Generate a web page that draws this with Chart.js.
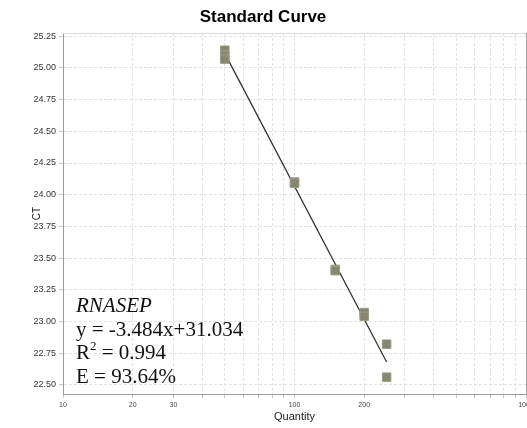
<!DOCTYPE html>
<html>
<head>
<meta charset="utf-8">
<script src="https://cdn.jsdelivr.net/npm/chart.js@4/dist/chart.umd.min.js"></script>
<style>
    html, body { margin: 0; padding: 0; background: #fff; overflow: hidden; }
    #wrap { width: 540px; height: 428px; }
</style>
</head>
<body>
<div id="wrap"><canvas id="stdcurve" width="540" height="428"></canvas></div>
<script>
"use strict";

/* data */
var quantities = [50, 50, 50, 100, 100, 150, 150, 200, 200, 250, 250];
var ctValues = [25.14, 25.10, 25.07, 24.10, 24.09, 23.41, 23.40, 23.07, 23.04, 22.82, 22.56];
var fitX = [50, 250];
var fitY = [25.115, 22.68];
var yTicks = [22.50, 22.75, 23.00, 23.25, 23.50, 23.75, 24.00, 24.25, 24.50, 24.75, 25.00, 25.25];
var xTicks = [10, 20, 30, 40, 50, 60, 70, 80, 90, 100, 200, 300, 400, 500, 600, 700, 800, 900, 1000];
var xTickLabels = [10, 20, 30, 100, 200, 1000];
var legendLines = ['RNASEP', 'y = -3.484x+31.034', 'R', ' = 0.994', 'E = 93.64%'];

document.addEventListener("DOMContentLoaded", function () {
    var ctx = document.getElementById('stdcurve').getContext('2d');

    /* frame lines on top and right of plot + equation text */
    var framePlugin = {
        id: 'frame',
        beforeDatasetsDraw: function (chart) {
            var a = chart.chartArea, c = chart.ctx;
            c.save();
            c.lineWidth = 1;
            c.strokeStyle = '#dcdcdc';
            c.beginPath();
            c.moveTo(a.left, a.top + 0.5);
            c.lineTo(a.right, a.top + 0.5);
            c.stroke();
            c.strokeStyle = '#a8a8a8';
            c.beginPath();
            c.moveTo(a.right + 0.5, a.top);
            c.lineTo(a.right + 0.5, a.bottom);
            c.stroke();
            c.restore();
        },
        afterDraw: function (chart) {
            var a = chart.chartArea, c = chart.ctx;
            var x = a.left + 13;
            var b = a.bottom;
            c.save();
            c.fillStyle = '#111';
            c.textBaseline = 'alphabetic';
            c.textAlign = 'left';
            c.font = 'italic 21px "Liberation Serif", "Times New Roman", serif';
            c.fillText(legendLines[0], x, b - 82);
            c.font = '21px "Liberation Serif", "Times New Roman", serif';
            c.fillText(legendLines[1], x, b - 58.5);
            c.fillText(legendLines[2], x, b - 35);
            var rw = c.measureText(legendLines[2]).width;
            c.font = '13px "Liberation Serif", "Times New Roman", serif';
            c.fillText('2', x + rw, b - 44);
            var sw = c.measureText('2').width;
            c.font = '21px "Liberation Serif", "Times New Roman", serif';
            c.fillText(legendLines[3], x + rw + sw, b - 35);
            c.fillText(legendLines[4], x, b - 11.5);
            c.restore();
        }
    };

    var gridCfg = {
        color: '#e2e2e2',
        tickColor: '#c8c8c8',
        tickLength: 4,
        drawTicks: true
    };

    var config = {
        data: {
            datasets: [{
                type: 'line',
                data: fitX.map(function (v, i) { return { x: v, y: fitY[i] }; }),
                borderColor: '#333333',
                borderWidth: 1.3,
                pointRadius: 0,
                fill: false,
                order: 2
            }, {
                type: 'scatter',
                data: quantities.map(function (v, i) { return { x: v, y: ctValues[i] }; }),
                pointStyle: 'rect',
                radius: 6,
                backgroundColor: '#878770',
                borderColor: '#9b9b86',
                borderWidth: 1,
                order: 1
            }]
        },
        options: {
            responsive: false,
            animation: false,
            layout: { padding: { left: 0, right: 14, top: 0, bottom: 0 } },
            plugins: {
                legend: { display: false },
                tooltip: { enabled: false },
                title: {
                    display: true,
                    text: 'Standard Curve',
                    color: '#000',
                    font: { family: '"Liberation Sans", Arial, sans-serif', size: 17, weight: 'bold', lineHeight: 1.2 },
                    padding: { top: 7, bottom: 5.6 }
                }
            },
            scales: {
                x: {
                    type: 'logarithmic',
                    min: 10,
                    max: 1000,
                    afterBuildTicks: function (scale) {
                        scale.ticks = xTicks.map(function (v) { return { value: v }; });
                    },
                    afterFit: function (scale) { scale.height = 34; },
                    ticks: {
                        autoSkip: false,
                        maxRotation: 0,
                        padding: 3,
                        color: '#444',
                        font: { family: '"Liberation Sans", Arial, sans-serif', size: 7 },
                        callback: function (v) {
                            return xTickLabels.indexOf(v) >= 0 ? String(v) : '';
                        }
                    },
                    grid: gridCfg,
                    border: { display: true, color: '#9a9a9a', width: 1, dash: [3, 2] },
                    title: {
                        display: true,
                        text: 'Quantity',
                        color: '#222',
                        font: { family: '"Liberation Sans", Arial, sans-serif', size: 11, lineHeight: 1.2 },
                        padding: { top: 0, bottom: 4.4 }
                    }
                },
                y: {
                    type: 'linear',
                    min: 22.427,
                    max: 25.276,
                    afterBuildTicks: function (scale) {
                        scale.ticks = yTicks.map(function (v) { return { value: v }; });
                    },
                    afterFit: function (scale) { scale.width = 63; },
                    ticks: {
                        padding: 3,
                        color: '#333',
                        font: { family: '"Liberation Sans", Arial, sans-serif', size: 9 },
                        callback: function (v) { return Number(v).toFixed(2); }
                    },
                    grid: gridCfg,
                    border: { display: true, color: '#9a9a9a', width: 1, dash: [3, 2] },
                    title: {
                        display: true,
                        text: 'CT',
                        color: '#222',
                        font: { family: '"Liberation Sans", Arial, sans-serif', size: 10, lineHeight: 1.2 },
                        padding: { top: 31, bottom: 0 }
                    }
                }
            }
        },
        plugins: [framePlugin]
    };

    var stdChart = new Chart(ctx, config);
});
</script>
</body>
</html>
